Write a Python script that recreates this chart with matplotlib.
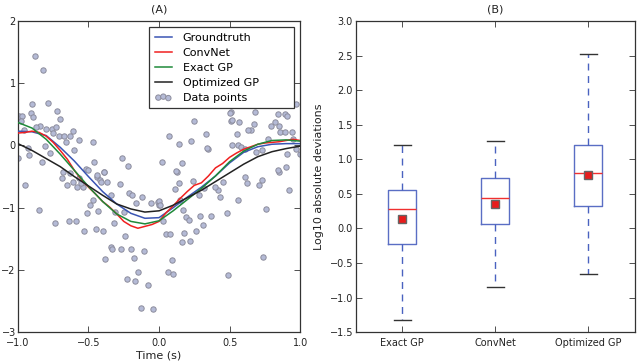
import numpy as np
import matplotlib
matplotlib.use("Agg")
import matplotlib.pyplot as plt

# ---------------- Panel A data ----------------
x_curve = [-1.0, -0.9, -0.8, -0.7, -0.6, -0.5, -0.4, -0.3, -0.2, -0.1, 0.0,
           0.1, 0.2, 0.3, 0.4, 0.5, 0.6, 0.7, 0.8, 0.9, 1.0]
groundtruth = [0.23, 0.22, 0.16, -0.03, -0.25, -0.50, -0.74, -0.94, -1.09, -1.17, -1.16,
               -1.00, -0.83, -0.67, -0.49, -0.28, -0.11, -0.02, 0.02, 0.03, 0.03]
exact_gp = [0.37, 0.28, 0.10, -0.14, -0.40, -0.66, -0.90, -1.10, -1.22, -1.26, -1.21,
            -1.05, -0.87, -0.69, -0.49, -0.26, -0.09, 0.02, 0.08, 0.09, 0.07]
optimized_gp = [0.03, -0.08, -0.21, -0.34, -0.50, -0.65, -0.80, -0.94, -1.02, -1.07, -1.05,
                -0.96, -0.84, -0.72, -0.58, -0.44, -0.30, -0.18, -0.10, -0.05, -0.01]

x_convnet = [-1.0, -0.95, -0.9, -0.85, -0.8, -0.75, -0.7, -0.65, -0.6, -0.55, -0.5,
             -0.45, -0.4, -0.35, -0.3, -0.25, -0.2, -0.15, -0.1, -0.05, 0.0,
             0.05, 0.1, 0.15, 0.2, 0.25, 0.3, 0.35, 0.4, 0.45, 0.5,
             0.55, 0.6, 0.65, 0.7, 0.75, 0.8, 0.85, 0.9, 0.95, 1.0]
convnet = [0.20, 0.21, 0.23, 0.21, 0.15, 0.05, -0.08, -0.22, -0.40, -0.55, -0.67,
           -0.78, -0.90, -0.99, -1.10, -1.22, -1.29, -1.33, -1.30, -1.27, -1.22,
           -1.08, -0.97, -0.85, -0.74, -0.64, -0.60, -0.49, -0.36, -0.29, -0.19,
           -0.12, -0.06, -0.02, 0.02, 0.04, 0.05, 0.06, 0.08, 0.10, 0.08]

data_x = [-0.88, -0.82, -0.90, -0.79, -0.91, -0.89, -0.72, -0.70, -0.99, -0.97,
          -0.98, -0.84, -0.87, -0.80, -0.76, -0.73, -0.75, -0.71, -0.67, -0.63,
          -0.61, -0.66, -0.57, -0.47, -0.60, -0.46, -0.39, -0.52, -0.50, -0.26,
          -0.22, -0.81, -0.77, -0.93, -0.92, -0.83, -1.00, -0.68, -0.63, -0.95,
          -0.85, -0.74, -0.64, -0.59, -0.53, -0.51, -0.49, -0.47, -0.43, -0.45,
          -0.40, -0.34, -0.33, -0.38, -0.27, -0.20, -0.11, -0.18, -0.15, -0.23,
          -0.17, -0.08, -0.13, -0.04, -0.24, -0.32, -0.34, -0.28, -0.21, -0.19,
          -0.12, -0.16, -0.06, -0.01, 0.00, -0.25, -0.31, -0.69, -0.65, -0.58,
          -0.54, -0.44, -0.42, -0.37, -0.39, -0.96, -0.57, -0.61, -0.55,
          0.13, 0.14, 0.11, 0.24, 0.15, 0.17, 0.19, 0.21, 0.05, 0.08,
          0.18, 0.16, 0.22, 0.26, 0.31, 0.29, 0.37, 0.48, 0.09, 0.06,
          0.10, 0.49, 0.74, 0.76, 0.56, 0.43, 0.42, 0.40, 0.45, 0.61,
          0.62, 0.71, 0.73, 0.92, 0.85, 0.28, 0.32, 0.03, 0.00, 0.01,
          0.25, 0.07, 0.14, 0.23, 0.02, 0.12, 0.33, 0.35, 0.34, 0.51,
          0.67, 0.65, 0.55, 0.52, 0.56, 0.79, 0.82, 0.85, 0.86, 0.89,
          0.94, 0.84, 0.89, 0.51, 0.68, 0.97, 0.73, 0.84, 0.90, 0.58,
          0.57, 0.61, 0.69, 0.77, 0.91, 0.95, 0.97, 1.00, 0.91, 0.63,
          0.50, 0.52, 0.16, -0.44, -0.41]
data_y = [1.44, 1.21, 0.67, 0.68, 0.52, 0.45, 0.55, 0.43, 0.48, 0.48,
          0.39, 0.32, 0.29, 0.26, 0.27, 0.30, 0.20, 0.16, 0.16, 0.16,
          0.23, 0.06, 0.09, 0.05, -0.07, -0.27, -0.42, -0.37, -0.40, -0.20,
          -0.33, -0.01, -0.12, -0.04, -0.15, -0.27, -0.20, -0.42, -0.44, -0.64,
          -1.03, -1.24, -1.22, -1.21, -1.37, -1.08, -0.95, -0.88, -1.05, -1.35,
          -1.38, -1.63, -1.67, -1.83, -1.67, -1.66, -1.69, -1.81, -2.04, -2.15,
          -2.18, -2.24, -2.61, -2.63, -1.45, -1.25, -0.79, -0.62, -0.77, -0.80,
          -0.82, -0.93, -0.92, -0.91, -0.96, -1.07, -1.07, -0.53, -0.64, -0.67,
          -0.67, -0.51, -0.56, -0.59, -0.43, 0.25, -0.52, -0.58, -0.60,
          -0.43, -0.60, -0.70, -0.57, -0.87, -1.03, -1.15, -1.20, -1.42, -1.43,
          -1.41, -1.55, -1.53, -1.38, -1.27, -1.13, -1.14, -1.09, -1.84, -2.04,
          -2.06, -2.08, -1.79, -1.02, -0.87, -0.83, -0.72, -0.66, -0.59, -0.51,
          -0.60, -0.63, -0.56, -0.72, -0.42, -0.80, -0.69, -1.22, -0.90, -0.95,
          0.39, 0.15, 0.03, 0.08, -0.27, -0.41, 0.18, -0.05, -0.04, 0.40,
          0.34, 0.25, 0.18, 0.00, 0.00, 0.32, 0.38, 0.32, 0.22, 0.21,
          0.22, 0.50, 0.50, 0.54, 0.54, 0.67, -0.08, -0.39, -0.35, -0.03,
          0.37, -0.05, -0.11, 0.11, 0.48, 0.11, -0.06, -0.14, -0.13, 0.25,
          0.53, 0.41, -0.28, -0.48, -0.59]

# ---------------- Panel B data ----------------
box_labels = ["Exact GP", "ConvNet", "Optimized GP"]
box_q1 = [-0.23, 0.07, 0.32]
box_q3 = [0.56, 0.73, 1.21]
box_median = [0.28, 0.44, 0.80]
box_mean = [0.14, 0.36, 0.78]
box_whislo = [-1.33, -0.85, -0.66]
box_whishi = [1.20, 1.27, 2.53]

plt.rcParams['font.family'] = ['DejaVu Sans']
plt.rcParams['axes.unicode_minus'] = True

fig = plt.figure(figsize=(6.4, 3.63), dpi=100)
axA = fig.add_axes([0.028, 0.085, 0.441, 0.857])
axB = fig.add_axes([0.556, 0.085, 0.436, 0.857])

for ax in (axA, axB):
    ax.tick_params(direction='in', top=True, right=True, labelsize=7, length=4,
                   width=0.6, colors='#333333', labelcolor='#222222', pad=2)
    for s in ax.spines.values():
        s.set_linewidth(0.9)
        s.set_color('#333333')
axA.tick_params(axis='y', pad=1.5)
axA.tick_params(axis='x', pad=4)

# Panel A
axA.scatter(data_x, data_y, s=15, facecolor='#b4bad6', edgecolor='#8c8c9c',
            linewidths=0.7, zorder=2, label='Data points')
axA.plot(x_curve, groundtruth, color='#3a55b4', lw=1.1, zorder=3, label='Groundtruth')
axA.plot(x_convnet, convnet, color='#f02020', lw=1.1, zorder=3, label='ConvNet')
axA.plot(x_curve, exact_gp, color='#1f8a3a', lw=1.1, zorder=3, label='Exact GP')
axA.plot(x_curve, optimized_gp, color='#222222', lw=1.1, zorder=3, label='Optimized GP')
axA.set_xlim(-1.0, 1.0)
axA.set_ylim(-3, 2)
axA.set_xticks([-1.0, -0.5, 0.0, 0.5, 1.0])
axA.set_yticks([-3, -2, -1, 0, 1, 2])
axA.set_xlabel('Time (s)', fontsize=8, color='#222222', labelpad=2)
axA.set_title('(A)', fontsize=8, color='#222222', pad=6)
h, l = axA.get_legend_handles_labels()
order = [1, 2, 3, 4, 0]
leg = axA.legend([h[i] for i in order], [l[i] for i in order], loc='upper left',
                 bbox_to_anchor=(0.466, 0.70, 0.513, 0.281), mode='expand',
                 borderaxespad=0, fontsize=8, fancybox=False,
                 framealpha=1, edgecolor='#333333', scatterpoints=3,
                 handlelength=1.5, borderpad=0.5, labelspacing=0.45,
                 handletextpad=1.0)
leg.get_frame().set_linewidth(0.9)

# Panel B
stats = []
for i in range(len(box_labels)):
    stats.append(dict(label=box_labels[i], q1=box_q1[i], q3=box_q3[i],
                      med=box_median[i], mean=box_mean[i],
                      whislo=box_whislo[i], whishi=box_whishi[i], fliers=[]))
axB.bxp(stats, positions=[1, 2, 3], widths=0.3, capwidths=0.18, showmeans=True,
        boxprops=dict(color='#5a6ec4', linewidth=1.0),
        whiskerprops=dict(color='#4a62c0', linewidth=1.0, linestyle=(0, (5, 4))),
        capprops=dict(color='#333333', linewidth=1.0),
        medianprops=dict(color='#f03030', linewidth=1.0),
        meanprops=dict(marker='s', markerfacecolor='#e81c1c',
                       markeredgecolor='#666666', markersize=5.5))
axB.set_xlim(0.5, 3.5)
axB.set_ylim(-1.5, 3.0)
axB.set_yticks([-1.5, -1.0, -0.5, 0.0, 0.5, 1.0, 1.5, 2.0, 2.5, 3.0])
axB.set_ylabel('Log10 absolute deviations', fontsize=8, color='#222222', labelpad=4)
axB.set_title('(B)', fontsize=8, color='#222222', pad=6)
axB.tick_params(axis='x', top=True, bottom=True, pad=4)

fig.savefig('out.png', dpi=100)
